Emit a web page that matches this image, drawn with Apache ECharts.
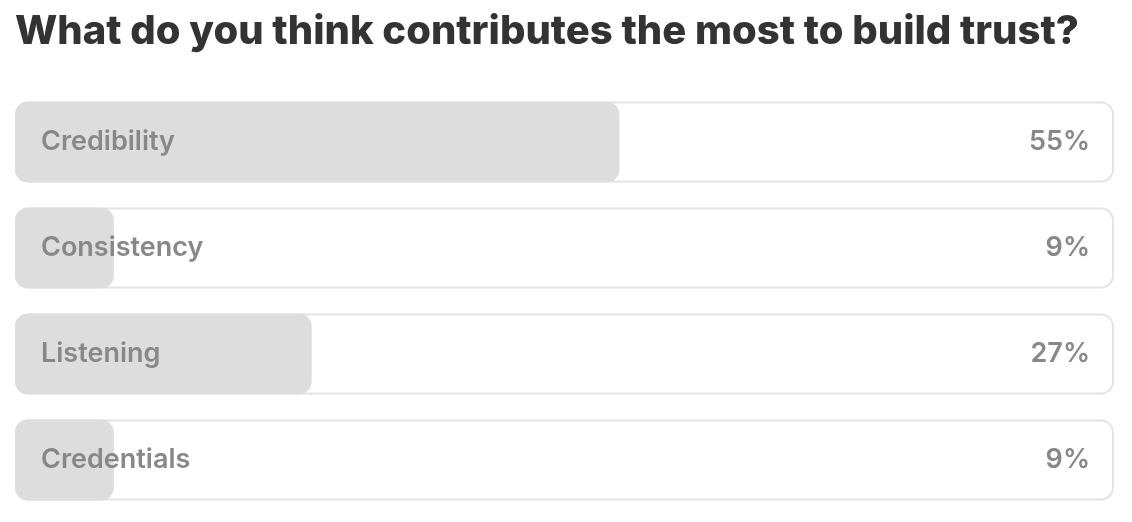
<!DOCTYPE html>
<html><head><meta charset="utf-8">
<script src="https://cdn.jsdelivr.net/npm/echarts@6/dist/echarts.min.js"></script>
<style>html,body{margin:0;padding:0;background:#fff}#c{width:1132px;height:522px}</style>
</head><body><div id="c"></div>
<script>
const titleText = "What do you think contributes the most to build trust?";
const categories = ["Credibility", "Consistency", "Listening", "Credentials"];
const percentages = [55, 9, 27, 9];
const fullScale = [100, 100, 100, 100];

const chart = echarts.init(document.getElementById('c'));
chart.setOption({
  animation: false,
  title: {
    text: titleText, left: 10, top: 7,
    textStyle: { fontFamily: 'Inter', fontWeight: 800, fontSize: 40, color: '#333333' }
  },
  grid: { left: 15, right: 18, top: 89, bottom: 9 },
  xAxis: { type: 'value', min: 0, max: 100, show: false },
  yAxis: { type: 'category', data: categories, inverse: true, show: false },
  series: [
    {
      type: 'bar', data: fullScale, barWidth: 81, silent: true,
      itemStyle: { color: '#ffffff', borderColor: '#e4e4e4', borderWidth: 2, borderRadius: 12 },
      label: {
        show: true, position: 'insideRight', distance: 24,
        formatter: p => percentages[p.dataIndex] + '%',
        fontFamily: 'Inter', fontSize: 27, fontWeight: 600, color: '#888888'
      },
      z: 1
    },
    {
      type: 'bar', data: percentages, barWidth: 81, barGap: '-100%', silent: true,
      itemStyle: { color: '#dddddd', borderColor: '#dddddd', borderWidth: 2, borderRadius: 12 },
      label: {
        show: true, position: 'insideLeft', distance: 26,
        formatter: p => categories[p.dataIndex],
        fontFamily: 'Inter', fontSize: 27, fontWeight: 600, color: '#888888'
      },
      z: 2
    }
  ]
});
</script></body></html>
